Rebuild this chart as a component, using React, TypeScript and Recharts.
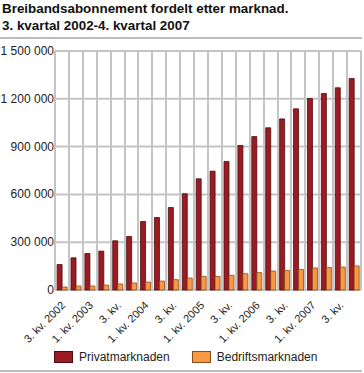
import { BarChart, Bar, XAxis, YAxis, CartesianGrid } from "recharts";

const quarters = [
  "3. kv. 2002", "4. kv.",
  "1. kv. 2003", "2. kv.", "3. kv.", "4. kv.",
  "1. kv. 2004", "2. kv.", "3. kv.", "4. kv.",
  "1. kv. 2005", "2. kv.", "3. kv.", "4. kv.",
  "1. kv. 2006", "2. kv.", "3. kv.", "4. kv.",
  "1. kv. 2007", "2. kv.", "3. kv.", "4. kv.",
];

const privat = [
  160000, 202000, 229000, 244000, 309000, 336000, 430000, 455000, 518000, 604000,
  698000, 746000, 806000, 907000, 963000, 1018000, 1074000, 1137000, 1202000,
  1233000, 1269000, 1327000,
];

const bedrift = [
  19000, 25000, 25000, 31000, 38000, 44000, 50000, 56000, 65000, 75000, 85000,
  85000, 92000, 102000, 109000, 119000, 123000, 129000, 138000, 142000, 144000,
  151000,
];

const yTicks = [0, 300000, 600000, 900000, 1200000, 1500000];

const chartData = quarters.map((q, i) => ({
  quarter: q,
  privat: privat[i],
  bedrift: bedrift[i],
}));

const font = "'Liberation Sans', Arial, sans-serif";

const CHART_W = 364;
const CHART_H = 373;
const MARGIN = { top: 51, right: 3, left: 0, bottom: 23 };
const Y_AXIS_W = 55;
const X_AXIS_H = 60;
const GRID = "#c4c4c4";

// vertical grid lines go between the quarters, not through them
const plotLeft = MARGIN.left + Y_AXIS_W;
const plotW = CHART_W - MARGIN.left - MARGIN.right - Y_AXIS_W;
const plotBottom = CHART_H - MARGIN.bottom - X_AXIS_H;
const gridXs = Array.from(
  { length: quarters.length + 1 },
  (_, i) => plotLeft + (i * plotW) / quarters.length
);

// thousands with a space, as in the original
const fmt = (v: number) => String(v).replace(/\B(?=(\d{3})+(?!\d))/g, " ");

const QuarterTick = ({ x, y, payload }: any) => (
  <text
    x={x + 4}
    y={y + 8}
    textAnchor="end"
    fontSize={11}
    fill="#222"
    fontFamily={font}
    transform={`rotate(-45, ${x + 4}, ${y + 8})`}
  >
    {payload.value}
  </text>
);

const ValueTick = ({ x, y, payload }: any) => (
  <text x={x} y={y} dy={4} textAnchor="end" fontSize={12} fill="#222" fontFamily={font}>
    {fmt(payload.value)}
  </text>
);

function LegendItem({ color, border, label }: { color: string; border: string; label: string }) {
  return (
    <div style={{ display: "flex", alignItems: "center", marginRight: 22 }}>
      <div
        style={{
          width: 17,
          height: 10,
          background: color,
          border: `1px solid ${border}`,
          marginRight: 6,
        }}
      />
      <span>{label}</span>
    </div>
  );
}

export default function App() {
  return (
    <div
      style={{
        position: "absolute",
        left: 0,
        top: 0,
        width: 364,
        height: 373,
        fontFamily: font,
        color: "#222",
        background: "#fff",
      }}
    >
      <div
        style={{
          position: "absolute",
          left: 2,
          top: 0,
          fontSize: 13.4,
          fontWeight: "bold",
          lineHeight: "17px",
          color: "#111",
        }}
      >
        Breibandsabonnement fordelt etter marknad.
        <br />
        3. kvartal 2002-4. kvartal 2007
      </div>
      <div
        style={{ position: "absolute", left: 0, top: 37, width: 362, height: 2, background: "#bdbdbd" }}
      />
      <div style={{ position: "absolute", left: 0, top: 0, zIndex: 1 }}>
        <BarChart
          width={CHART_W}
          height={CHART_H}
          data={chartData}
          margin={MARGIN}
          barCategoryGap="15%"
          barGap={0}
        >
          <CartesianGrid stroke={GRID} strokeWidth={2} vertical={false} />
          <XAxis
            dataKey="quarter"
            interval={1}
            tick={<QuarterTick />}
            tickLine={false}
            axisLine={false}
            height={X_AXIS_H}
          />
          <YAxis
            domain={[0, 1500000]}
            ticks={yTicks}
            width={Y_AXIS_W}
            tickLine={false}
            tickSize={0}
            tickMargin={1}
            axisLine={false}
            tick={<ValueTick />}
          />
          <Bar
            dataKey="privat"
            fill="#9a1b21"
            stroke="#4e0c0f"
            strokeWidth={0.8}
            isAnimationActive={false}
          />
          <Bar
            dataKey="bedrift"
            fill="#f89a45"
            stroke="#8c4d16"
            strokeWidth={0.8}
            isAnimationActive={false}
          />
        </BarChart>
      </div>
      {/* vertical grid, laid over the chart in the gaps between quarters */}
      <svg
        width={CHART_W}
        height={CHART_H}
        style={{ position: "absolute", left: 0, top: 0, zIndex: 2, pointerEvents: "none" }}
      >
        {gridXs.map((gx, i) => (
          <rect
            key={i}
            x={Math.round(gx) - 1}
            y={MARGIN.top}
            width={2}
            height={plotBottom - MARGIN.top}
            fill={GRID}
          />
        ))}
      </svg>
      <div
        style={{
          position: "absolute",
          left: 54,
          top: 350,
          display: "flex",
          fontSize: 12,
          zIndex: 3,
        }}
      >
        <LegendItem color="#9a1b21" border="#4e0c0f" label="Privatmarknaden" />
        <LegendItem color="#f89a45" border="#8c4d16" label="Bedriftsmarknaden" />
      </div>
      <div
        style={{ position: "absolute", left: 0, top: 370, width: 362, height: 2, background: "#bdbdbd" }}
      />
    </div>
  );
}
